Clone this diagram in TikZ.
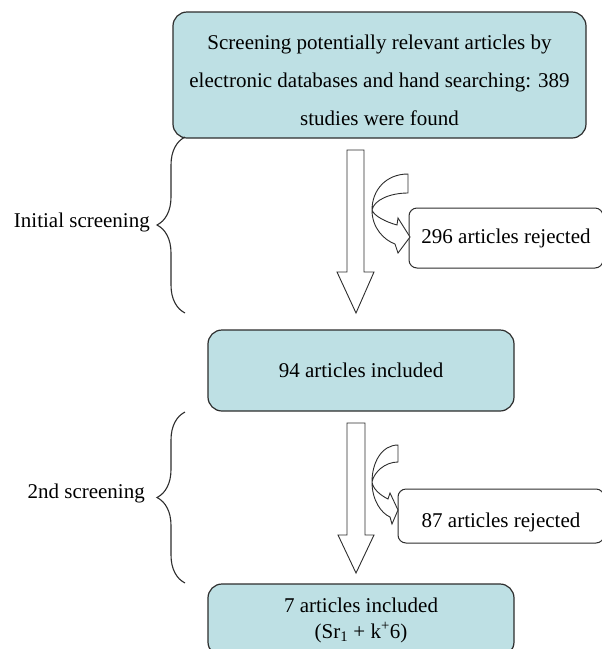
\documentclass[tikz,border=0pt]{standalone}
\usepackage{fontspec}
\setmainfont{Liberation Serif}
\usepackage{xcolor}
\usepackage{tikz}
\usetikzlibrary{decorations.pathreplacing}
\definecolor{boxfill}{RGB}{190,224,228}
\definecolor{boxline}{RGB}{45,45,45}

\begin{document}
\begin{tikzpicture}[x=1pt,y=-1pt,
  stage/.style={draw=boxline,line width=1.2pt,fill=boxfill,rounded corners=14pt,inner sep=0pt,align=center},
  reject/.style={draw=boxline,line width=1pt,fill=white,rounded corners=8pt,inner sep=0pt},
  blockarrow/.style={draw=boxline,line width=0.9pt,fill=white,line join=miter},
  bracket/.style={draw=boxline,line width=1.1pt,decorate,decoration={brace,amplitude=28pt}}]
\useasboundingbox (0,0) rectangle (602,649);
\clip (0,0) rectangle (602,649);
\fontsize{21}{38}\selectfont
\node (1) at (379.5,75) [stage,minimum width=413pt,minimum height=126pt] {\rule{0pt}{26pt}Screening potentially relevant articles by\\electronic databases and hand searching: 389\\studies were found};
\node (2) at (506,238) [reject,minimum width=194pt,minimum height=60pt] {296 articles rejected};
\node (3) at (361,370.5) [stage,minimum width=306pt,minimum height=81pt] {94 articles included};
\node (4) at (501,516) [reject,minimum width=206pt,minimum height=54pt,text height=28pt] {87 articles rejected};
\node (5) at (361,620) [stage,minimum width=306pt,minimum height=72pt,font=\fontsize{21}{26}\selectfont] {7 articles included\\(Sr\textsubscript{1} + k\textsuperscript{+}6)};
\node (6) at (150,222) [anchor=east,inner sep=0pt] {Initial screening};
\node (7) at (145,493) [anchor=east,inner sep=0pt] {2nd screening};
% braces
\draw[bracket] (185,313) -- (185,137);
\draw[bracket] (185,583) -- (185,412);
% down arrows
\draw[blockarrow] (347,150) -- (364,150) -- (364,272) -- (374,272) -- (356,313) -- (337,272) -- (347,272) -- cycle;
\draw[blockarrow] (347,423) -- (365,423) -- (365,535) -- (374,535) -- (356,573) -- (338,535) -- (347,535) -- cycle;
% curved arrows
\draw[blockarrow] (408,174) .. controls (386,174) and (372,190) .. (372,210)
  .. controls (372,228) and (384,240) .. (395,244) -- (398,253) -- (410,237) -- (398,218) -- (397,225)
  .. controls (386,222) and (374,216) .. (372,210) .. controls (374,200) and (390,193) .. (408,193) -- cycle;
\draw[blockarrow] (398,445) .. controls (382,445) and (372,462) .. (372,482)
  .. controls (372,500) and (381,513) .. (390,517) -- (392,524) -- (398,510) -- (390,493) -- (388,499)
  .. controls (380,495) and (373,489) .. (372,482) .. controls (374,472) and (385,462) .. (398,462) -- cycle;
\end{tikzpicture}
\end{document}
